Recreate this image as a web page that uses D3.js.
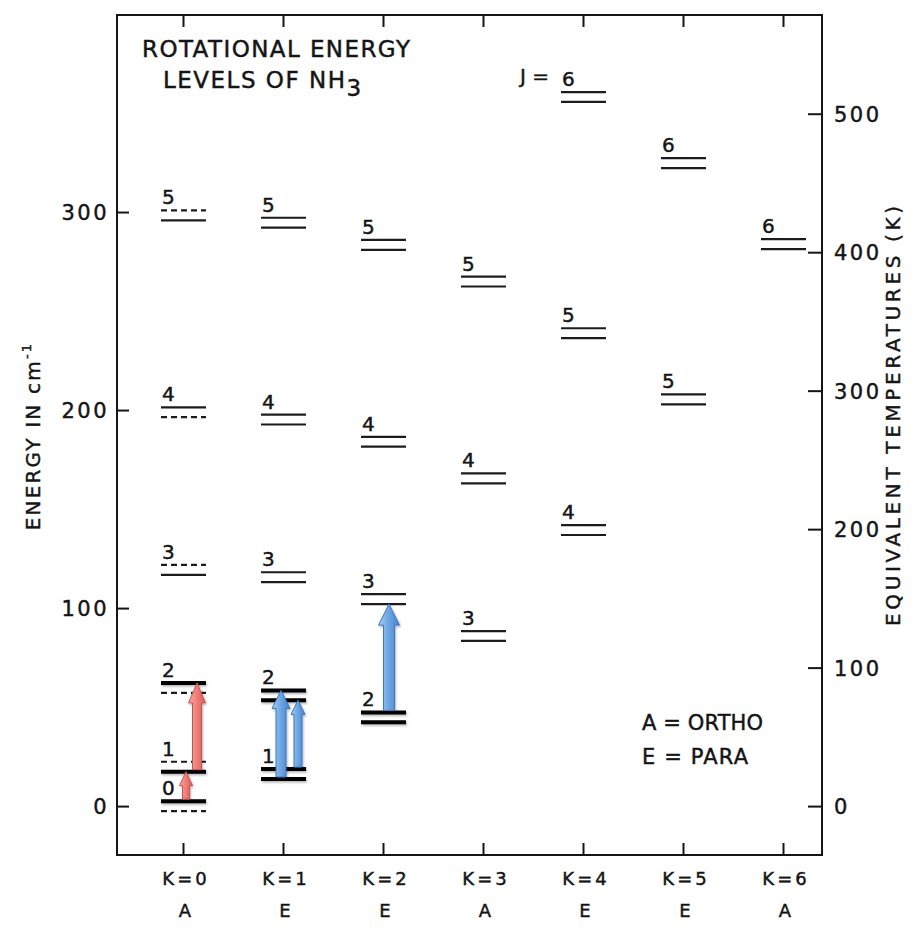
<!DOCTYPE html>
<html><head><meta charset="utf-8">
<script src="https://cdn.jsdelivr.net/npm/d3@7/dist/d3.min.js"></script>
<style>body{margin:0;background:#fff} svg{display:block}</style>
</head><body>
<svg id="chart" width="922" height="928"></svg>
<script>
// ---------------- DATA ----------------
const kValues   = [0, 1, 2, 3, 4, 5, 6];
const kLabels   = ["K=0", "K=1", "K=2", "K=3", "K=4", "K=5", "K=6"];
const symLabels = ["A", "E", "E", "A", "E", "E", "A"];

// rotational levels (energy of the inversion-doublet centre, cm^-1)
const levelK      = [0, 0, 0, 0, 0, 0,   1, 1, 1, 1, 1,   2, 2, 2, 2,   3, 3, 3,   4, 4, 4,   5, 5,   6];
const levelJ      = [0, 1, 2, 3, 4, 5,   1, 2, 3, 4, 5,   2, 3, 4, 5,   3, 4, 5,   4, 5, 6,   5, 6,   6];
const levelEnergy = [0, 19.9, 59.7, 119.3, 198.9, 298.3,
                     16.2, 55.9, 115.6, 195.2, 294.6,
                     44.8, 104.5, 184.0, 283.4,
                     85.9, 165.5, 264.9,
                     139.4, 238.8, 358.1,
                     205.4, 324.7,
                     283.8];
// for K=0 one member of the doublet is missing (drawn dashed)
const levelMissing = ["lower", "upper", "lower", "upper", "lower", "upper",
                      "none", "none", "none", "none", "none",
                      "none", "none", "none", "none",
                      "none", "none", "none",
                      "none", "none", "none",
                      "none", "none",
                      "none"];
// highlighted (heavy) levels
const levelBold = [true, true, true, false, false, false,
                   true, true, false, false, false,
                   true, false, false, false,
                   false, false, false,
                   false, false, false,
                   false, false,
                   false];
const doubletSplit = 2.5; // half separation of the (exaggerated) inversion doublet, cm^-1

const energyTicks = [0, 100, 200, 300];
const tempTicks   = [0, 100, 200, 300, 400, 500];
const kelvinPerWavenumber = 1.43;

// transitions
const arrowK        = [0, 0, 1, 1, 2];
const arrowFromJ    = [0, 1, 1, 1, 2];
const arrowFromHalf = ["upper", "lower", "lower", "upper", "upper"];
const arrowToJ      = [1, 2, 2, 2, 3];
const arrowToHalf   = ["lower", "upper", "upper", "lower", "lower"];
const arrowColor    = ["red", "red", "blue", "blue", "blue"];

// ---------------- LAYOUT ----------------
const svg = d3.select("#chart");
const fL = 117, fR = 822, fT = 15, fB = 855;
const font = "'DejaVu Sans', 'Liberation Sans', sans-serif";
const ink = "#151515";

const x = d3.scaleLinear().domain([-0.66, 6.39]).range([fL, fR]);
const y = d3.scaleLinear().domain([-24.7, 399.5]).range([fB, fT]);
const yT = d3.scaleLinear()
  .domain([-24.7 * kelvinPerWavenumber, 399.5 * kelvinPerWavenumber])
  .range([fB, fT]);

const defs = svg.append("defs");
function grad(id, stops) {
  const g = defs.append("linearGradient").attr("id", id)
    .attr("x1", "0%").attr("x2", "100%").attr("y1", "0%").attr("y2", "0%");
  stops.forEach(([o, c]) => g.append("stop").attr("offset", o).attr("stop-color", c));
}
grad("gRed", [["0%", "#f7aaa4"], ["45%", "#ef827c"], ["100%", "#d65d58"]]);
grad("gBlue", [["0%", "#a6cdf2"], ["45%", "#6fa8e4"], ["100%", "#4683cc"]]);
const sh = defs.append("filter").attr("id", "shadow")
  .attr("filterUnits", "userSpaceOnUse")
  .attr("x", 0).attr("y", 0).attr("width", 922).attr("height", 928);
sh.append("feDropShadow").attr("dx", 1).attr("dy", 1.5).attr("stdDeviation", 1.2)
  .attr("flood-color", "#000").attr("flood-opacity", 0.3);

// text helper (slightly heavy ink like the scanned lettering)
function txt(sel) {
  return sel.attr("font-family", font).attr("fill", ink)
    .attr("stroke", ink).attr("stroke-width", 0.45);
}

// frame
svg.append("rect").attr("x", fL).attr("y", fT)
  .attr("width", fR - fL).attr("height", fB - fT)
  .attr("fill", "none").attr("stroke", ink).attr("stroke-width", 2);

// left axis (energy)
const axL = svg.append("g").attr("transform", `translate(${fL},0)`)
  .call(d3.axisRight(y).tickValues(energyTicks).tickSize(12).tickFormat(""));
axL.select(".domain").remove();
axL.selectAll("line").attr("stroke", ink).attr("stroke-width", 2);
txt(svg.append("g").selectAll("text").data(energyTicks).join("text"))
  .attr("x", 109).attr("y", d => y(d) + 8)
  .attr("text-anchor", "end").attr("font-size", 21)
  .attr("letter-spacing", 2.5).text(d => d);

// right axis (temperature)
const axR = svg.append("g").attr("transform", `translate(${fR},0)`)
  .call(d3.axisLeft(yT).tickValues(tempTicks).tickSize(14).tickFormat(""));
axR.select(".domain").remove();
axR.selectAll("line").attr("stroke", ink).attr("stroke-width", 2);
txt(svg.append("g").selectAll("text").data(tempTicks).join("text"))
  .attr("x", 834).attr("y", d => yT(d) + 8)
  .attr("text-anchor", "start").attr("font-size", 21)
  .attr("letter-spacing", 2.5).text(d => d);

// top & bottom ticks
const axT = svg.append("g").attr("transform", `translate(0,${fT})`)
  .call(d3.axisBottom(x).tickValues(kValues).tickSize(12).tickFormat(""));
axT.select(".domain").remove();
axT.selectAll("line").attr("stroke", ink).attr("stroke-width", 2);
const axB = svg.append("g").attr("transform", `translate(0,${fB})`)
  .call(d3.axisTop(x).tickValues(kValues).tickSize(12).tickFormat(""));
axB.select(".domain").remove();
axB.selectAll("line").attr("stroke", ink).attr("stroke-width", 2);

// K labels and symmetry labels
txt(svg.append("g").selectAll("text").data(kValues).join("text"))
  .attr("x", d => x(d) + 3).attr("y", 885)
  .attr("text-anchor", "middle").attr("font-size", 18)
  .attr("letter-spacing", 3).text((d, i) => kLabels[i]);
txt(svg.append("g").selectAll("text").data(kValues).join("text"))
  .attr("x", d => x(d) + 2).attr("y", 917)
  .attr("text-anchor", "middle").attr("font-size", 18)
  .text((d, i) => symLabels[i]);

// axis titles
const ltitle = txt(svg.append("text")).attr("transform", "translate(40,436) rotate(-90)")
  .attr("text-anchor", "middle").attr("font-size", 20)
  .attr("letter-spacing", 2.2);
ltitle.append("tspan").text("ENERGY IN cm");
ltitle.append("tspan").attr("dy", -9).attr("font-size", 13).text("-1");
txt(svg.append("text")).attr("transform", "translate(900,416) rotate(-90)")
  .attr("text-anchor", "middle").attr("font-size", 20)
  .attr("textLength", 420).attr("lengthAdjust", "spacing")
  .text("EQUIVALENT  TEMPERATURES  (K)");

// title
txt(svg.append("text")).attr("x", 142).attr("y", 57)
  .attr("font-size", 23)
  .attr("textLength", 268).attr("lengthAdjust", "spacing")
  .text("ROTATIONAL  ENERGY");
const t2 = txt(svg.append("text")).attr("x", 163).attr("y", 88)
  .attr("font-size", 23).attr("letter-spacing", 1.5);
t2.append("tspan").text("LEVELS  OF  NH");
t2.append("tspan").attr("dy", 8).text("3");

// J = label
txt(svg.append("text")).attr("x", 520).attr("y", 83)
  .attr("font-size", 20).text("J =");

// legend
txt(svg.append("text")).attr("x", 642).attr("y", 730)
  .attr("font-size", 21)
  .attr("textLength", 121).attr("lengthAdjust", "spacing").text("A = ORTHO");
txt(svg.append("text")).attr("x", 642).attr("y", 764)
  .attr("font-size", 21)
  .attr("textLength", 106).attr("lengthAdjust", "spacing").text("E = PARA");

// ---------------- LEVELS ----------------
const levels = levelK.map((k, i) => ({
  k, j: levelJ[i], e: levelEnergy[i], missing: levelMissing[i], bold: levelBold[i]
}));
const halfY = (lv, half) => y(lv.e + (half === "upper" ? doubletSplit : -doubletSplit));

const lines = [];
levels.forEach(lv => {
  ["upper", "lower"].forEach(h => {
    const dashed = lv.missing === h;
    lines.push({ lv, h, dashed, bold: lv.bold && !dashed });
  });
});
const lg = svg.append("g");
lg.selectAll("line").data(lines).join("line")
  .attr("x1", d => x(d.lv.k) - 22).attr("x2", d => x(d.lv.k) + 23)
  .attr("y1", d => halfY(d.lv, d.h)).attr("y2", d => halfY(d.lv, d.h))
  .attr("stroke", d => d.bold ? "#000" : "#1c1c1c")
  .attr("stroke-width", d => d.bold ? 4 : 2.2)
  .attr("stroke-dasharray", d => d.dashed ? "6,4" : null)
  .attr("filter", d => d.bold ? "url(#shadow)" : null);

txt(svg.append("g").selectAll("text").data(levels).join("text"))
  .attr("x", d => x(d.k) - 21).attr("y", d => halfY(d, "upper") - 6)
  .attr("font-size", 20)
  .text(d => d.j);

// ---------------- ARROWS ----------------
const arrowOffset = [3, 14, -2, 15, 6];
const arrowDims = [
  { sw: 3.5, hw: 6.5, hl: 14 },
  { sw: 4.5, hw: 8.5, hl: 20 },
  { sw: 5, hw: 9, hl: 18 },
  { sw: 4, hw: 7, hl: 14 },
  { sw: 5.5, hw: 10.5, hl: 21 }
];
const findLevel = (k, j) => levels.find(l => l.k === k && l.j === j);
const arrows = arrowK.map((k, i) => ({
  k, color: arrowColor[i],
  y0: halfY(findLevel(k, arrowFromJ[i]), arrowFromHalf[i]) - 2,
  y1: halfY(findLevel(k, arrowToJ[i]), arrowToHalf[i]),
  cx: x(k) + arrowOffset[i], dim: arrowDims[i]
}));
svg.append("g").selectAll("path").data(arrows).join("path")
  .attr("d", a => {
    const { sw, hw, hl } = a.dim;
    const c = a.cx;
    return `M${c - sw},${a.y0} L${c - sw},${a.y1 + hl} L${c - hw},${a.y1 + hl} L${c},${a.y1}` +
           ` L${c + hw},${a.y1 + hl} L${c + sw},${a.y1 + hl} L${c + sw},${a.y0} Z`;
  })
  .attr("fill", a => a.color === "red" ? "url(#gRed)" : "url(#gBlue)")
  .attr("stroke", a => a.color === "red" ? "#c9534e" : "#3d78bf")
  .attr("stroke-width", 1)
  .attr("filter", "url(#shadow)");
</script>
</body></html>
